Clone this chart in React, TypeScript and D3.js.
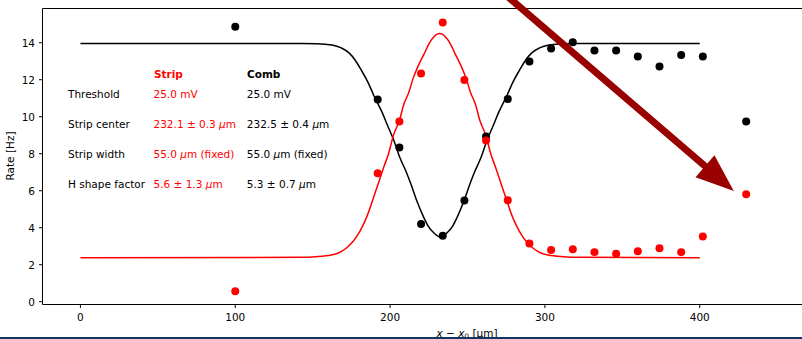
import React from "react";
import * as d3 from "d3";

// measured points (x - x0 in um)
const positions = [100, 192, 206, 220, 234, 248, 262, 276, 290, 304, 318, 332, 346, 360, 374, 388, 402, 430];
const combRate = [14.86, 10.93, 8.34, 4.2, 3.56, 5.47, 8.93, 10.96, 12.99, 13.69, 14.02, 13.58, 13.58, 13.25, 12.72, 13.34, 13.25, 9.74];
const stripRate = [0.57, 6.95, 9.74, 12.33, 15.09, 11.99, 8.72, 5.48, 3.15, 2.8, 2.84, 2.68, 2.59, 2.73, 2.89, 2.68, 3.53, 5.81];

// fit curves
const stripFitX = [0, 142, 152, 162, 167, 172, 176, 179, 182, 185, 189, 192, 196, 199, 202, 206, 209, 212, 215, 219, 222, 225, 228, 232, 236, 239, 242, 245, 249, 252, 255, 258, 262, 265, 268, 272, 275, 279, 282, 285, 288, 292, 297, 302, 312, 322, 400];
const stripFitY = [2.38, 2.4, 2.43, 2.52, 2.65, 2.92, 3.25, 3.6, 4.05, 4.6, 5.55, 6.3, 7.3, 8.0, 8.95, 9.8, 10.7, 11.3, 12.1, 12.9, 13.4, 13.93, 14.3, 14.5, 14.3, 13.93, 13.4, 12.9, 12.1, 11.3, 10.7, 9.8, 8.95, 8.0, 7.3, 6.3, 5.55, 4.6, 4.05, 3.6, 3.25, 2.92, 2.65, 2.52, 2.43, 2.4, 2.38];
const combFitX = [0, 142.5, 152.5, 162.5, 168.5, 173.5, 177.5, 181.5, 185.5, 189.5, 194.5, 198.5, 202.5, 206.5, 210.5, 213.5, 217.5, 221.5, 224.5, 228.5, 232.5, 236.5, 240.5, 243.5, 247.5, 251.5, 254.5, 258.5, 262.5, 266.5, 270.5, 275.5, 279.5, 283.5, 287.5, 291.5, 296.5, 302.5, 312.5, 322.5, 400];
const combFitY = [13.96, 13.96, 13.95, 13.88, 13.72, 13.45, 13.05, 12.5, 11.9, 11.15, 10.3, 9.5, 8.7, 7.75, 7.0, 6.35, 5.4, 4.6, 4.1, 3.7, 3.5, 3.7, 4.1, 4.6, 5.4, 6.35, 7.0, 7.75, 8.7, 9.5, 10.3, 11.15, 11.9, 12.5, 13.05, 13.45, 13.72, 13.88, 13.95, 13.96, 13.96];

const xTicks = [0, 100, 200, 300, 400];
const yTicks = [0, 2, 4, 6, 8, 10, 12, 14];

const rowLabels = ["Threshold", "Strip center", "Strip width", "H shape factor"];
const stripParams = ["25.0 mV", "232.1 ± 0.3 μm", "55.0 μm (fixed)", "5.6 ± 1.3 μm"];
const combParams = ["25.0 mV", "232.5 ± 0.4 μm", "55.0 μm (fixed)", "5.3 ± 0.7 μm"];

// annotation arrow in data coords
const arrowFrom = [274.5, 16.6];
const arrowTo = [422, 5.99];

const W = 802;
const H = 339;
const font = "DejaVu Sans";
const RED = "#ff0000";

function withMu(s: string) {
  const parts = s.split("μ");
  return parts.map((p, i) => (
    <React.Fragment key={i}>
      {i > 0 && <tspan fontStyle="italic">μ</tspan>}
      {p}
    </React.Fragment>
  ));
}

export default function App() {
  const x = d3.scaleLinear().domain([-24.5, 524.5]).range([42.5, 892.5]);
  const y = d3.scaleLinear().domain([-0.15, 15.85]).range([304.5, 8.5]);

  const fitPath = (xs: number[], ys: number[]) =>
    d3
      .line<number>()
      .x((v) => x(v))
      .y((_, i) => y(ys[i]))
      .curve(d3.curveMonotoneX)(xs) || "";

  // arrow geometry
  const ax0 = x(arrowFrom[0]);
  const ay0 = y(arrowFrom[1]);
  const ax1 = x(arrowTo[0]);
  const ay1 = y(arrowTo[1]);
  const len = Math.hypot(ax1 - ax0, ay1 - ay0);
  const ux = (ax1 - ax0) / len;
  const uy = (ay1 - ay0) / len;
  const headLen = 38;
  const headHalf = 14.5;
  const bx = ax1 - ux * headLen;
  const by = ay1 - uy * headLen;
  const head = [
    [ax1, ay1],
    [bx - uy * headHalf, by + ux * headHalf],
    [bx + uy * headHalf, by - ux * headHalf],
  ];

  const rowBase = [98, 128, 158, 188];

  return (
    <svg
      width={W}
      height={H}
      style={{ position: "absolute", left: 0, top: 0, background: "#fff" }}
      fontFamily={font}
    >
      <rect width={W} height={H} fill="#fff" />

      {/* fits */}
      <path d={fitPath(combFitX, combFitY)} fill="none" stroke="#000" strokeWidth={1.5} />
      <path d={fitPath(stripFitX, stripFitY)} fill="none" stroke={RED} strokeWidth={1.5} />

      {/* data */}
      {positions.map((p, i) => (
        <circle key={"c" + i} cx={x(p)} cy={y(combRate[i])} r={4} fill="#000" />
      ))}
      {positions.map((p, i) => (
        <circle key={"s" + i} cx={x(p)} cy={y(stripRate[i])} r={4} fill={RED} />
      ))}

      {/* parameter table */}
      <g fontSize={10.5}>
        <text x={154} y={77.5} fill={RED} fontWeight="bold">Strip</text>
        <text x={247} y={77.5} fill="#000" fontWeight="bold">Comb</text>
        {rowLabels.map((l, i) => (
          <g key={l}>
            <text x={68} y={rowBase[i]} fill="#000">{l}</text>
            <text x={153.5} y={rowBase[i]} fill={RED}>{withMu(stripParams[i])}</text>
            <text x={246.8} y={rowBase[i]} fill="#000">{withMu(combParams[i])}</text>
          </g>
        ))}
      </g>

      {/* spines */}
      <line x1={42.5} x2={42.5} y1={8.5} y2={304.5} stroke="#000" strokeWidth={1} />
      <line x1={42.5} x2={W} y1={304.5} y2={304.5} stroke="#000" strokeWidth={1} />
      <line x1={42.5} x2={W} y1={8.5} y2={8.5} stroke="#000" strokeWidth={1} />

      {/* y axis */}
      {yTicks.map((t) => (
        <g key={"y" + t}>
          <line x1={39} x2={42.5} y1={y(t)} y2={y(t)} stroke="#000" strokeWidth={1} />
          <text x={35} y={y(t)} dy="0.36em" textAnchor="end" fontSize={10.5} fill="#000">
            {t}
          </text>
        </g>
      ))}
      <text
        transform={`translate(14.3,156) rotate(-90)`}
        textAnchor="middle"
        fontSize={10.5}
        fill="#000"
      >
        Rate [Hz]
      </text>

      {/* x axis */}
      {xTicks.map((t) => (
        <g key={"x" + t}>
          <line x1={x(t)} x2={x(t)} y1={304.5} y2={308} stroke="#000" strokeWidth={1} />
          <text x={x(t)} y={321} textAnchor="middle" fontSize={10.5} fill="#000">
            {t}
          </text>
        </g>
      ))}
      <text x={467} y={337} textAnchor="middle" fontSize={10.5} fill="#000">
        <tspan fontStyle="italic">x</tspan> − <tspan fontStyle="italic">x</tspan>
        <tspan fontSize={7.5} dy={2}>0</tspan>
        <tspan dy={-2}> [μm]</tspan>
      </text>

      {/* arrow annotation */}
      <line x1={ax0} y1={ay0} x2={bx + ux * 2} y2={by + uy * 2} stroke="#990000" strokeWidth={7} />
      <polygon points={head.map((p) => p.join(",")).join(" ")} fill="#990000" />

      {/* bottom border */}
      <rect x={0} y={337} width={W} height={2} fill="#0f3560" />
    </svg>
  );
}
